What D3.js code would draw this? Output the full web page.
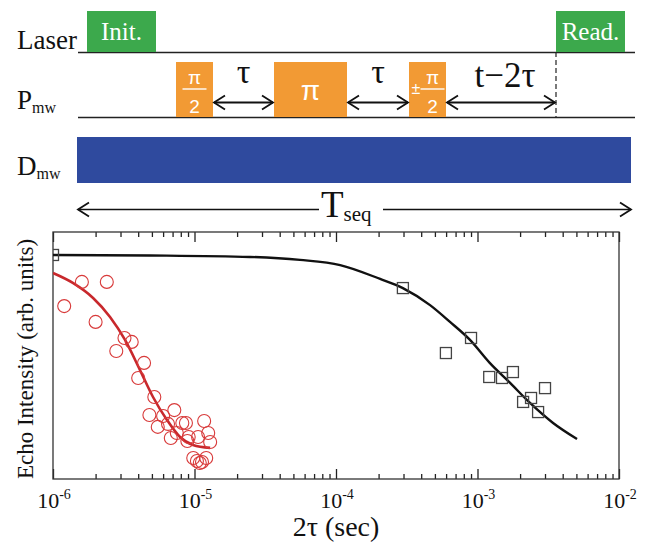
<!DOCTYPE html>
<html>
<head>
<meta charset="utf-8">
<script src="https://cdn.jsdelivr.net/npm/d3@7"></script>
<style>
body { margin: 0; background: #fff; }
svg { display: block; }
</style>
</head>
<body>
<script>
// ---- echo data ----
// red circles: short-lived echo
var redX = [1.2e-6, 1.6e-6, 2.4e-6, 2.0e-6, 3.2e-6, 3.6e-6, 2.8e-6, 4.4e-6, 4.0e-6, 5.2e-6,
    4.8e-6, 7.2e-6, 6.0e-6, 5.5e-6, 6.5e-6, 8.2e-6, 8.7e-6, 6.8e-6, 7.5e-6, 9.1e-6,
    8.9e-6, 1.06e-5, 1.17e-5, 1.25e-5, 1.29e-5, 9.8e-6, 1.04e-5, 1.13e-5, 1.21e-5, 1.09e-5];
var redY = [0.700, 0.798, 0.798, 0.636, 0.571, 0.555, 0.518, 0.470, 0.409, 0.332,
    0.259, 0.279, 0.255, 0.211, 0.223, 0.227, 0.227, 0.166, 0.186, 0.170,
    0.154, 0.170, 0.235, 0.186, 0.150, 0.085, 0.073, 0.069, 0.085, 0.065];

// red fit line
var redFitX = [1e-6, 1.38e-6, 1.92e-6, 2.53e-6, 3.23e-6, 4.12e-6, 5.09e-6, 6.39e-6, 7.9e-6, 9.76e-6, 1.29e-5];
var redFitY = [0.834, 0.794, 0.733, 0.656, 0.563, 0.441, 0.332, 0.239, 0.170, 0.138, 0.126];

// black squares: long-lived echo
var blackX = [1e-6, 2.97e-4, 9.0e-4, 5.98e-4, 1.21e-3, 1.49e-3, 1.78e-3, 2.10e-3, 2.39e-3, 2.68e-3, 3.0e-3];
var blackY = [0.907, 0.773, 0.571, 0.510, 0.413, 0.409, 0.433, 0.312, 0.328, 0.271, 0.368];

// black fit line
var blackFitX = [1e-6, 4.85e-6, 2.47e-5, 5.57e-5, 1.07e-4, 2.05e-4, 2.97e-4, 4.62e-4, 6.39e-4,
    8.85e-4, 1.22e-3, 1.70e-3, 2.35e-3, 3.42e-3, 5.05e-3];
var blackFitY = [0.907, 0.905, 0.899, 0.887, 0.866, 0.810, 0.773, 0.704, 0.636,
    0.563, 0.470, 0.389, 0.308, 0.227, 0.162];

var decades = [1e-6, 1e-5, 1e-4, 1e-3, 1e-2];
var decadeExp = ["-6", "-5", "-4", "-3", "-2"];

// ---- pulse sequence (arbitrary time units) ----
var seqLength = 553;
var lineEnd = 557;
var laserPulses = [{ name: "Init.", start: 9, end: 78 }, { name: "Read.", start: 478, end: 547 }];
var mwPulses = [{ kind: "half", start: 98, end: 135 }, { kind: "pi", start: 196, end: 269 }, { kind: "pmhalf", start: 331, end: 368 }];
var waits = [{ name: "\u03c4", start: 135, end: 196 }, { name: "\u03c4", start: 269, end: 331 }, { name: "t\u22122\u03c4", start: 368, end: 478 }];
var readoutAt = 478;

var W = 649, H = 545;
var serif = "'Liberation Serif', 'Times New Roman', serif";
var sans = "'Liberation Sans', Arial, sans-serif";
var svg = d3.select("body").append("svg").attr("width", W).attr("height", H)
    .attr("font-family", serif).attr("fill", "#111");

var green = "#3ca94c", orange = "#f29a34", blue = "#2f4a9e";

var seqX = d3.scaleLinear().domain([0, seqLength]).range([78, 631]);

// row labels
function rowLabel(main, sub, yy) {
    var t = svg.append("text").attr("x", 17).attr("y", yy).attr("font-size", 27).text(main);
    if (sub) {
        t.append("tspan").attr("dy", 4).attr("font-size", 16).text(sub);
    }
}
rowLabel("Laser", null, 49);
rowLabel("P", "mw", 109);
rowLabel("D", "mw", 175);

// baselines
svg.append("line").attr("x1", seqX(0)).attr("x2", seqX(lineEnd)).attr("y1", 52.5).attr("y2", 52.5)
    .attr("stroke", "#222").attr("stroke-width", 1.3);
svg.append("line").attr("x1", seqX(0)).attr("x2", seqX(lineEnd)).attr("y1", 117.5).attr("y2", 117.5)
    .attr("stroke", "#222").attr("stroke-width", 1.3);

// laser pulses
laserPulses.forEach(function(p) {
    svg.append("rect").attr("x", seqX(p.start)).attr("y", 11)
        .attr("width", seqX(p.end) - seqX(p.start)).attr("height", 41).attr("fill", green);
    svg.append("text").attr("x", (seqX(p.start) + seqX(p.end)) / 2).attr("y", 40)
        .attr("text-anchor", "middle").attr("font-size", 25).attr("fill", "#fff").text(p.name);
});

// readout marker
svg.append("line").attr("x1", seqX(readoutAt)).attr("x2", seqX(readoutAt)).attr("y1", 52).attr("y2", 117)
    .attr("stroke", "#222").attr("stroke-width", 1.2).attr("stroke-dasharray", "5,3");

// microwave pulses
mwPulses.forEach(function(p) {
    var x0 = seqX(p.start), x1 = seqX(p.end), cx = (x0 + x1) / 2;
    svg.append("rect").attr("x", x0).attr("y", 62).attr("width", x1 - x0).attr("height", 55).attr("fill", orange);
    var g = svg.append("g").attr("font-family", sans).attr("fill", "#fff").attr("text-anchor", "middle");
    if (p.kind == "pi") {
        g.append("text").attr("x", cx).attr("y", 100).attr("font-size", 28).text("\u03c0");
    } else {
        var fx = p.kind == "half" ? cx : cx + 5;
        g.append("text").attr("x", fx).attr("y", 84).attr("font-size", 19).text("\u03c0");
        g.append("line").attr("x1", fx - 12).attr("x2", fx + 12).attr("y1", 89).attr("y2", 89)
            .attr("stroke", "#fff").attr("stroke-width", 1.4);
        g.append("text").attr("x", fx).attr("y", 113).attr("font-size", 19).text("2");
        if (p.kind == "pmhalf") {
            g.append("text").attr("x", x0 + 7).attr("y", 94).attr("font-size", 16).text("\u00b1");
        }
    }
});

// double-headed arrows
function hArrow(xa, xb, yy, sw) {
    svg.append("line").attr("x1", xa).attr("x2", xb).attr("y1", yy).attr("y2", yy)
        .attr("stroke", "#111").attr("stroke-width", sw);
}
function head(hx, hy, dir) {
    svg.append("path")
        .attr("d", "M" + (hx + dir * 11) + "," + (hy - 7) + "L" + hx + "," + hy + "L" + (hx + dir * 11) + "," + (hy + 7))
        .attr("fill", "none").attr("stroke", "#111").attr("stroke-width", 1.8);
}
waits.forEach(function(w) {
    var x0 = seqX(w.start) + 1, x1 = seqX(w.end) - 1;
    hArrow(x0, x1, 102.5, 1.8);
    head(x0, 102.5, 1);
    head(x1, 102.5, -1);
    var long = w.name.length > 1;
    svg.append("text").attr("x", (x0 + x1) / 2 + (long ? 4 : 0)).attr("y", long ? 87 : 83)
        .attr("text-anchor", "middle").attr("font-size", long ? 35 : 34).text(w.name);
});

// D_mw bar
svg.append("rect").attr("x", seqX(0) - 1).attr("y", 137).attr("width", seqX(seqLength) - seqX(0) + 1).attr("height", 46)
    .attr("fill", blue);

// T_seq arrow
var tsY = 209.5;
hArrow(seqX(0), 319, tsY, 1.6);
hArrow(383, seqX(seqLength), tsY, 1.6);
head(seqX(0), tsY, 1);
head(seqX(seqLength), tsY, -1);
var ts = svg.append("text").attr("x", 321).attr("y", 217).attr("font-size", 37).text("T");
ts.append("tspan").attr("dy", 4).attr("font-size", 21).text("seq");

// ---- echo plot ----
var pLeft = 53, pRight = 619, pTop = 232, pBottom = 479;
var x = d3.scaleLog().domain([1e-6, 1e-2]).range([pLeft, pRight]);
var y = d3.scaleLinear().domain([0, 1]).range([pBottom, pTop]);

svg.append("defs").append("clipPath").attr("id", "plotclip")
    .append("rect").attr("x", pLeft).attr("y", pTop).attr("width", pRight - pLeft).attr("height", pBottom - pTop);

var minor = [];
decades.slice(0, 4).forEach(function(d) {
    for (var k = 2; k <= 9; k++) minor.push(d * k);
});

function tickStyle(g) {
    g.select(".domain").remove();
    g.selectAll("line").attr("stroke", "#222").attr("stroke-width", 1.3);
}
svg.append("g").attr("transform", "translate(0," + pBottom + ")")
    .call(d3.axisBottom(x).tickValues(minor).tickSize(-5).tickFormat("")).call(tickStyle);
svg.append("g").attr("transform", "translate(0," + pBottom + ")")
    .call(d3.axisBottom(x).tickValues(decades).tickSize(-10).tickFormat("")).call(tickStyle);
svg.append("g").attr("transform", "translate(0," + pTop + ")")
    .call(d3.axisTop(x).tickValues(minor).tickSize(-5).tickFormat("")).call(tickStyle);
svg.append("g").attr("transform", "translate(0," + pTop + ")")
    .call(d3.axisTop(x).tickValues(decades).tickSize(-10).tickFormat("")).call(tickStyle);

svg.append("rect").attr("x", pLeft).attr("y", pTop).attr("width", pRight - pLeft).attr("height", pBottom - pTop)
    .attr("fill", "none").attr("stroke", "#333").attr("stroke-width", 1.3);

// decade labels
decades.forEach(function(d, i) {
    var t = svg.append("text").attr("x", x(d) + 1).attr("y", 508).attr("text-anchor", "middle")
        .attr("font-size", 22).text("10");
    t.append("tspan").attr("dy", -9).attr("font-size", 14).text(decadeExp[i]);
});

svg.append("text").attr("x", 336).attr("y", 536).attr("text-anchor", "middle").attr("font-size", 28)
    .text("2\u03c4 (sec)");
svg.append("text").attr("transform", "translate(33,359) rotate(-90)").attr("text-anchor", "middle")
    .attr("font-size", 23).text("Echo Intensity (arb. units)");

var plot = svg.append("g").attr("clip-path", "url(#plotclip)");
var line = d3.line().x(function(d) { return x(d[0]); }).y(function(d) { return y(d[1]); }).curve(d3.curveMonotoneX);

plot.append("path").datum(d3.zip(blackFitX, blackFitY)).attr("d", line)
    .attr("fill", "none").attr("stroke", "#111").attr("stroke-width", 2.4);
plot.append("path").datum(d3.zip(redFitX, redFitY)).attr("d", line)
    .attr("fill", "none").attr("stroke", "#c8282c").attr("stroke-width", 2.6);

plot.selectAll("circle.red").data(d3.zip(redX, redY)).enter().append("circle")
    .attr("class", "red").attr("cx", function(d) { return x(d[0]); }).attr("cy", function(d) { return y(d[1]); })
    .attr("r", 6.5).attr("fill", "none").attr("stroke", "#d83a3a").attr("stroke-width", 1.1);

var sq = 11;
plot.selectAll("rect.sq").data(d3.zip(blackX, blackY)).enter().append("rect")
    .attr("class", "sq").attr("x", function(d) { return x(d[0]) - sq / 2; }).attr("y", function(d) { return y(d[1]) - sq / 2; })
    .attr("width", sq).attr("height", sq).attr("fill", "none").attr("stroke", "#444").attr("stroke-width", 1.3);
</script>
</body>
</html>
